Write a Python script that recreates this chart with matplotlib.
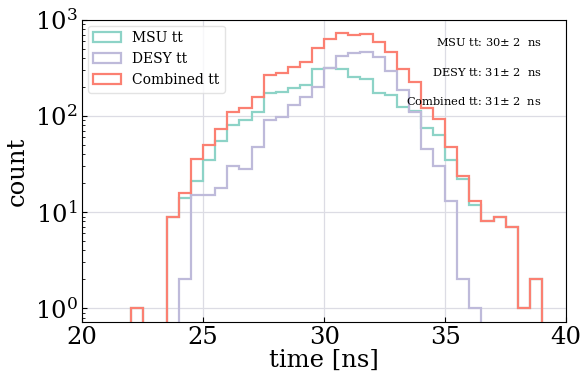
import numpy as np
from matplotlib import pyplot as plt

# bin edges of the time histograms (0.5 ns bins)
edges = np.arange(20, 40.5, 0.5)

# counts per bin, read from 20 ns to 40 ns
msu = [0, 0, 0, 0, 1, 0, 0, 9, 14, 21, 35, 55, 80, 92, 111, 175, 180, 194, 212, 306,
       318, 306, 253, 241, 175, 166, 123, 113, 75, 63, 35, 22, 12, 8, 9, 7, 1, 2, 0, 0]
desy = [0, 0, 0, 0, 0, 0, 0, 0, 2, 15, 15, 18, 30, 28, 48, 92, 98, 130, 157, 202,
        316, 422, 450, 468, 408, 295, 187, 111, 45, 30, 13, 2, 1, 0, 0, 0, 0, 0, 0, 0]
comb = [0, 0, 0, 0, 1, 0, 0, 9, 16, 36, 50, 73, 110, 120, 159, 267, 278, 324, 369, 508,
        634, 728, 703, 709, 583, 461, 310, 224, 120, 93, 48, 24, 13, 8, 9, 7, 1, 2, 0, 0]

labels = ["MSU tt", "DESY tt", "Combined tt"]
colors = ["#8dd3c7", "#bebada", "#fb8072"]
notes = ["MSU tt: 30$\\pm$ 2  ns", "DESY tt: 31$\\pm$ 2  ns", "Combined tt: 31$\\pm$ 2  ns"]

plt.rcParams['font.family'] = 'DejaVu Serif'
plt.rcParams['mathtext.fontset'] = 'dejavuserif'

fig = plt.figure(figsize=(5.83, 3.77), dpi=100)
ax = fig.add_axes([0.141, 0.146, 0.83, 0.801])

centers = edges[:-1] + 0.25
for vals, lab, col in zip([msu, desy, comb], labels, colors):
    ax.hist(centers, bins=edges, weights=vals, histtype='step', color=col,
            linewidth=1.6, label=lab, log=True)

ax.set_xlim(20, 40)
ax.set_ylim(0.72, 1000)
ax.set_xticks([20, 25, 30, 35, 40])
ax.grid(True, which='major', color='#dcdce4', linewidth=0.9)
ax.set_axisbelow(True)
ax.tick_params(which='both', direction='in', labelsize=17.5)
ax.tick_params(axis='x', pad=3)
ax.set_xlabel("time [ns]", fontsize=17.5, labelpad=0)
ax.set_ylabel("count", fontsize=17.5, labelpad=4)

ax.legend(loc='upper left', fontsize=10, frameon=True, framealpha=0.8,
          edgecolor='#dddddd', handlelength=2.0, borderaxespad=0.4)

ypos = [0.927, 0.828, 0.732]
for txt, yy in zip(notes, ypos):
    ax.text(0.95, yy, txt, transform=ax.transAxes, ha='right', va='center', fontsize=8.2)

fig.savefig("out.png", dpi=100)
